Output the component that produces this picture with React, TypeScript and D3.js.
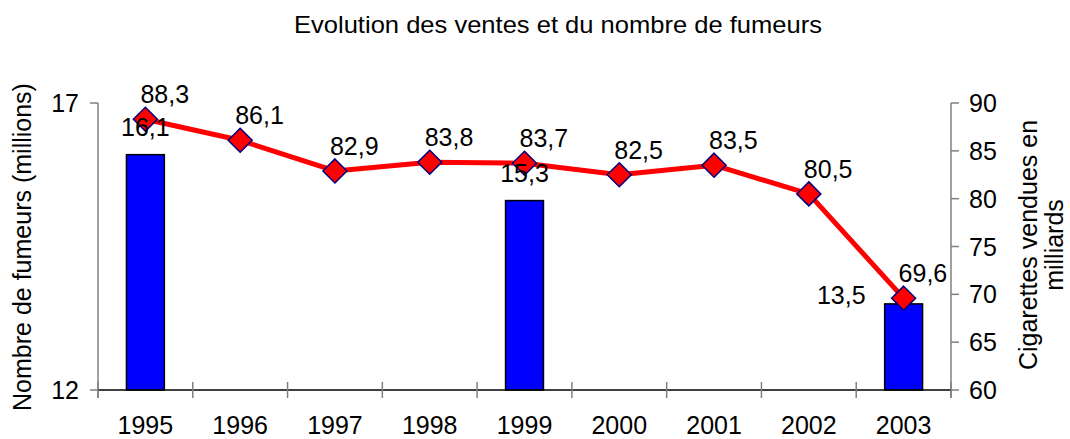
import React from "react";
import * as d3 from "d3";

const years = ["1995", "1996", "1997", "1998", "1999", "2000", "2001", "2002", "2003"];
const smokers: (number | null)[] = [16.1, null, null, null, 15.3, null, null, null, 13.5];
const sales = [88.3, 86.1, 82.9, 83.8, 83.7, 82.5, 83.5, 80.5, 69.6];
const leftTicks = [12, 17];
const rightTicks = [60, 65, 70, 75, 80, 85, 90];

const W = 1070;
const H = 439;
const FONT = "'Liberation Sans', Arial, sans-serif";
const fmt = (v: number) => v.toFixed(1).replace(".", ",");

export default function App() {
  const left = 98, right = 951, top = 103, bottom = 390;
  const x = d3.scaleBand<string>().domain(years).range([left, right]).padding(0);
  const yL = d3.scaleLinear().domain([12, 17]).range([bottom, top]);
  const yR = d3.scaleLinear().domain([60, 90]).range([bottom, top]);
  const bw = x.bandwidth() * 0.4;
  const cx = (y: string) => (x(y) as number) + x.bandwidth() / 2;

  const line = d3
    .line<number>()
    .x((_, i) => cx(years[i]))
    .y((d) => yR(d));

  const boundaries = d3.range(years.length + 1).map((i) => left + i * x.bandwidth());
  const lastBar = smokers.length - 1;

  return (
    <svg width={W} height={H} style={{ position: "absolute", left: 0, top: 0, background: "#fff" }} fontFamily={FONT}>
      <rect x={0} y={0} width={W} height={H} fill="#fff" />
      <text x={558} y={33} fontSize={24} textAnchor="middle" fill="#000" textLength={528} lengthAdjust="spacingAndGlyphs">
        Evolution des ventes et du nombre de fumeurs
      </text>

      {/* bars */}
      {smokers.map((v, i) =>
        v == null ? null : (
          <rect
            key={"b" + i}
            x={cx(years[i]) - bw / 2}
            y={yL(v)}
            width={bw}
            height={yL(12) - yL(v)}
            fill="#0000FF"
            stroke="#000"
            strokeWidth={1.5}
          />
        )
      )}

      {/* left axis */}
      <line x1={left} x2={left} y1={top} y2={bottom + 8} stroke="#808080" strokeWidth={1.5} />
      {leftTicks.map((t) => (
        <g key={"l" + t}>
          <line x1={left - 8} x2={left} y1={yL(t)} y2={yL(t)} stroke="#808080" strokeWidth={1.5} />
          <text x={79} y={yL(t)} dy="0.36em" fontSize={25} textAnchor="end">
            {t}
          </text>
        </g>
      ))}

      {/* right axis */}
      <line x1={right} x2={right} y1={top} y2={bottom + 8} stroke="#808080" strokeWidth={1.5} />
      {rightTicks.map((t) => (
        <g key={"r" + t}>
          <line x1={right} x2={right + 8} y1={yR(t)} y2={yR(t)} stroke="#808080" strokeWidth={1.5} />
          <text x={969} y={yR(t)} dy="0.36em" fontSize={25} textAnchor="start">
            {t}
          </text>
        </g>
      ))}

      {/* x axis */}
      <line x1={left} x2={right} y1={bottom} y2={bottom} stroke="#000" strokeWidth={1.5} />
      {boundaries.map((b, i) => (
        <line key={"xt" + i} x1={b} x2={b} y1={bottom - 8} y2={bottom + 8} stroke="#808080" strokeWidth={1.5} />
      ))}
      {years.map((y) => (
        <text key={"xl" + y} x={cx(y)} y={434} fontSize={25} textAnchor="middle">
          {y}
        </text>
      ))}

      {/* line */}
      <path d={line(sales) || ""} fill="none" stroke="#FF0000" strokeWidth={5} strokeLinejoin="round" />
      {sales.map((v, i) => {
        const px = cx(years[i]);
        const py = yR(v);
        const s = 12;
        return (
          <path
            key={"m" + i}
            d={`M${px},${py - s}L${px + s},${py}L${px},${py + s}L${px - s},${py}Z`}
            fill="#FF0000"
            stroke="#000080"
            strokeWidth={1.5}
          />
        );
      })}
      {sales.map((v, i) => (
        <text key={"sl" + i} x={cx(years[i]) - 5} y={yR(v) - 16} fontSize={25} textAnchor="start">
          {fmt(v)}
        </text>
      ))}

      {/* bar labels */}
      {smokers.map((v, i) => {
        if (v == null) return null;
        const bx = cx(years[i]);
        if (i === lastBar) {
          return (
            <text key={"bl" + i} x={bx - bw / 2 - 19} y={yL(v)} fontSize={25} textAnchor="end">
              {fmt(v)}
            </text>
          );
        }
        return (
          <text key={"bl" + i} x={bx} y={yL(v) - 19} fontSize={25} textAnchor="middle">
            {fmt(v)}
          </text>
        );
      })}

      {/* axis titles */}
      <text transform="translate(31,247) rotate(-90)" fontSize={25} textAnchor="middle">
        Nombre de fumeurs (millions)
      </text>
      <text transform="translate(1037,245) rotate(-90)" fontSize={25} textAnchor="middle">
        Cigarettes vendues en
      </text>
      <text transform="translate(1063,245) rotate(-90)" fontSize={25} textAnchor="middle">
        milliards
      </text>
    </svg>
  );
}
